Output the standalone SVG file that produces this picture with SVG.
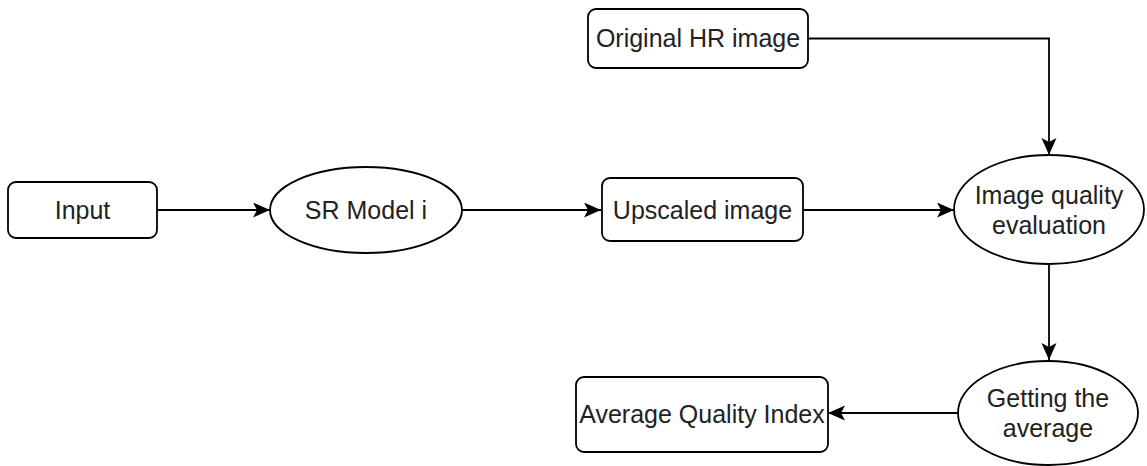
<svg xmlns="http://www.w3.org/2000/svg" width="1147" height="466" viewBox="0 0 1147 466">
  <style>
    .shape { fill: #ffffff; stroke: #000000; stroke-width: 1.8; }
    .edge { fill: none; stroke: #000000; stroke-width: 1.8; }
    .label { font-family: "Liberation Sans", Arial, sans-serif; font-size: 25px; fill: #222222; text-anchor: middle; }
  </style>
  <defs>
    <marker id="arrow" markerUnits="userSpaceOnUse" markerWidth="18" markerHeight="16" refX="17" refY="7.5" orient="auto">
      <path d="M0,0 L17,7.5 L0,15 L4,7.5 Z" fill="#000000"/>
    </marker>
  </defs>

  <rect width="1147" height="466" fill="#ffffff"/>

  <!-- connectors -->
  <g id="connectors">
    <path class="edge" d="M157,210 H270" marker-end="url(#arrow)"/>
    <path class="edge" d="M462,210 H601" marker-end="url(#arrow)"/>
    <path class="edge" d="M803,210 H954" marker-end="url(#arrow)"/>
    <path class="edge" d="M808,38.5 H1049 V155" marker-end="url(#arrow)"/>
    <path class="edge" d="M1049,264 V360" marker-end="url(#arrow)"/>
    <path class="edge" d="M958,413 H828" marker-end="url(#arrow)"/>
  </g>

  <!-- nodes -->
  <g id="input">
    <rect class="shape" x="8" y="182" width="149" height="56" rx="8"/>
    <text class="label" x="82.5" y="219">Input</text>
  </g>
  <g id="sr-model">
    <ellipse class="shape" cx="366" cy="210" rx="96" ry="43"/>
    <text class="label" x="366" y="219">SR Model i</text>
  </g>
  <g id="upscaled">
    <rect class="shape" x="602" y="178" width="201" height="63" rx="8"/>
    <text class="label" x="702.5" y="219">Upscaled image</text>
  </g>
  <g id="original-hr">
    <rect class="shape" x="588" y="9" width="220" height="59" rx="8"/>
    <text class="label" x="698" y="47">Original HR image</text>
  </g>
  <g id="quality-eval">
    <ellipse class="shape" cx="1049" cy="209.5" rx="95" ry="54.5"/>
    <text class="label" x="1049" y="204">Image quality</text>
    <text class="label" x="1049" y="234">evaluation</text>
  </g>
  <g id="average">
    <ellipse class="shape" cx="1048" cy="413" rx="90" ry="52"/>
    <text class="label" x="1048" y="407">Getting the</text>
    <text class="label" x="1048" y="437">average</text>
  </g>
  <g id="quality-index">
    <rect class="shape" x="576" y="377" width="252" height="75" rx="8"/>
    <text class="label" x="702" y="423">Average Quality Index</text>
  </g>
</svg>
